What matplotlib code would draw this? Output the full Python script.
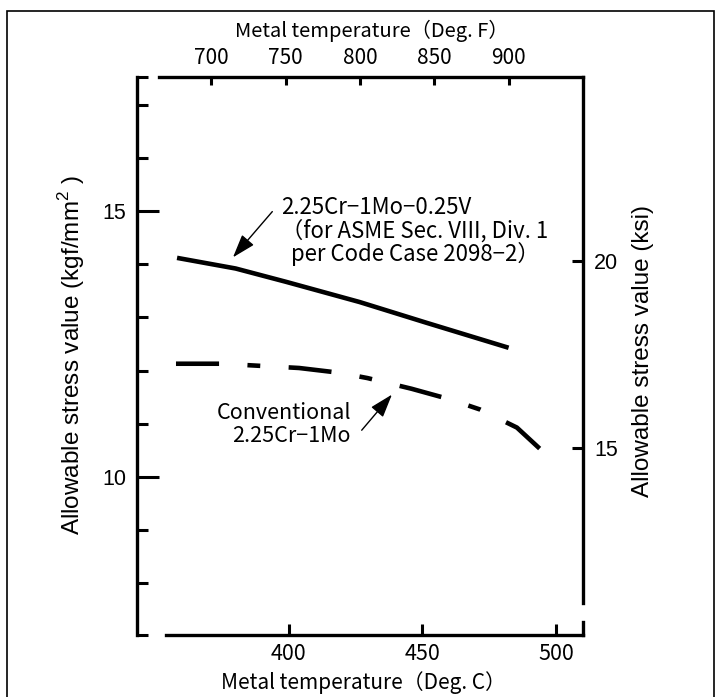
import matplotlib.pyplot as plt
from matplotlib.patches import Rectangle

# allowable stress (kgf/mm2) against metal temperature (deg C)
crmov_temp = [358.3, 380.2, 399.0, 426.5, 451.5, 482.2]
crmov_stress = [14.12, 13.92, 13.67, 13.29, 12.90, 12.43]

crmo_temp = [357.9, 375.0, 403.9, 419.0, 429.5, 445.9, 460.3, 471.5, 485.3, 496.5]
crmo_stress = [12.13, 12.13, 12.05, 11.96, 11.86, 11.66, 11.46, 11.27, 10.93, 10.41]

c_ticks = [400, 450, 500]
f_ticks = [700, 750, 800, 850, 900]
kgf_major = [10, 15]
kgf_minor = [8, 9, 11, 12, 13, 14, 16, 17]
ksi_ticks = [15, 20]

KSI = 0.70307  # kgf/mm2 per ksi


def c2f(c):
    return c * 9 / 5 + 32


def f2c(f):
    return (f - 32) * 5 / 9


def kgf2ksi(s):
    return s / KSI


def ksi2kgf(s):
    return s * KSI


gothic = ['Noto Sans CJK JP', 'DejaVu Sans']
sans = ['Liberation Sans', 'DejaVu Sans']
plt.rcParams['mathtext.fontset'] = 'custom'
plt.rcParams['mathtext.rm'] = 'Liberation Sans'

W, H = 720, 697
fig = plt.figure(figsize=(W / 100, H / 100), dpi=100)
ax = fig.add_axes([137 / W, 1 - 635 / H, 446 / W, 558 / H])
ax.patch.set_visible(False)

xlo, xhi = f2c(650), f2c(950)
ylo, yhi = ksi2kgf(10), 17.52
ax.set_xlim(xlo, xhi)
ax.set_ylim(ylo, yhi)

ax.plot(crmov_temp, crmov_stress, color='black', lw=3.3, solid_capstyle='butt')
ax.plot(crmo_temp, crmo_stress, color='black', lw=3.3, dash_capstyle='butt',
        dashes=(9.4, 6.2, 2.8, 6.2))

# spines
spw = 2.4
for s in ax.spines.values():
    s.set_linewidth(spw)
ax.spines['bottom'].set_bounds(354.0, xhi)
ax.spines['top'].set_bounds(351.4, xhi)
ax.spines['right'].set_bounds(7.63, yhi)
ax.axvline(xhi, 0, 0.0233, color='black', lw=spw, clip_on=False)

# bottom axis (deg C)
ax.set_xticks(c_ticks)
ax.tick_params(axis='x', which='both', direction='in', length=8, width=2.2,
               pad=6, labelsize=15.5, top=False)
for t in ax.get_xticklabels():
    t.set_family(gothic)
ax.set_xlabel('Metal temperature（Deg. C）', family=gothic, fontsize=15, va='center')
ax.xaxis.set_label_coords((363 - 137) / 446, (635 - 683) / 558)

# left axis (kgf/mm2)
ax.set_yticks(kgf_major)
ax.set_yticks(kgf_minor + [ylo, yhi], minor=True)
ax.yaxis.set_minor_formatter(plt.NullFormatter())
ax.tick_params(axis='y', which='major', direction='in', length=16, width=2.2,
               pad=8, labelsize=15.5, right=False)
ax.tick_params(axis='y', which='minor', direction='in', length=8, width=2.2,
               right=False)
for t in ax.get_yticklabels():
    t.set_family(sans)
ax.set_ylabel('Allowable stress value (kgf/mm$^2$ )', family=sans, fontsize=17.5,
              va='center')
ax.yaxis.set_label_coords((72 - 137) / 446, (635 - 355) / 558)

# top axis (deg F)
top = ax.secondary_xaxis('top', functions=(c2f, f2c))
top.spines['top'].set_visible(False)
top.set_xticks(f_ticks)
top.tick_params(axis='x', direction='in', length=6, width=2.2, pad=6, labelsize=15)
for t in top.get_xticklabels():
    t.set_family(gothic)
fig.text(372 / W, 1 - 31 / H, 'Metal temperature（Deg. F）', family=gothic,
         fontsize=14.5, ha='center', va='center')

# right axis (ksi)
right = ax.secondary_yaxis('right', functions=(kgf2ksi, ksi2kgf))
right.spines['right'].set_visible(False)
right.set_yticks(ksi_ticks)
right.tick_params(axis='y', direction='in', length=8, width=2.2, pad=8, labelsize=15.5)
for t in right.get_yticklabels():
    t.set_family(sans)
fig.text(643 / W, 1 - 351 / H, 'Allowable stress value (ksi)', family=sans,
         fontsize=17.5, rotation=90, ha='center', va='center')

# annotations
arrow = dict(arrowstyle='-|>,head_length=0.9,head_width=0.3', color='black',
             lw=1.0, mutation_scale=16, shrinkA=0, shrinkB=0)
ax.annotate('', xy=(379.2, 14.13), xytext=(393.9, 14.99), arrowprops=arrow)
ax.text(397.2, 14.62,
        '2.25Cr−1Mo−0.25V\n（for ASME Sec. VIII, Div. 1\n  per Code Case 2098−2）',
        family=gothic, fontsize=16, ha='left', va='center', linespacing=1.0)

ax.annotate('', xy=(438.6, 11.55), xytext=(427.3, 10.88), arrowprops=arrow)
ax.text(423.3, 10.99, 'Conventional\n2.25Cr−1Mo', family=gothic, fontsize=15.5,
        ha='right', va='center', multialignment='right', linespacing=1.1)

# outer frame
fig.patches.append(Rectangle((7 / W, -0.02), 707 / W, 1.02 - 11 / H,
                             transform=fig.transFigure, fill=False,
                             edgecolor='black', lw=1.2))

fig.savefig('out.png', dpi=100)
